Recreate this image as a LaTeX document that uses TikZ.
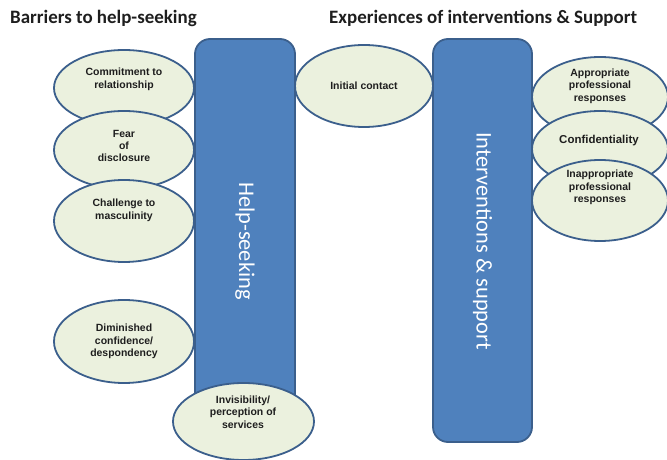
\documentclass[tikz,border=0pt]{standalone}
\usepackage{fontspec}
\setmainfont{Liberation Sans}
\newfontfamily\calib{Carlito}
\usetikzlibrary{shapes.geometric}
\definecolor{ellfill}{HTML}{EBF1DE}
\definecolor{edgeblue}{HTML}{3B5F8C}
\definecolor{barfill}{HTML}{4F81BD}
\definecolor{txt}{HTML}{1E1E1E}
\begin{document}
\begin{tikzpicture}[x=1bp,y=-1bp,
  bar/.style={rectangle, draw=edgeblue, line width=1.8bp, fill=barfill, rounded corners=15bp, inner sep=0pt},
  ell/.style={ellipse, draw=edgeblue, line width=1.8bp, fill=ellfill, inner sep=0pt},
  etxt/.style={align=center, font=\fontsize{10.5}{12.5}\selectfont\bfseries, text=txt, inner sep=0pt},
  bartxt/.style={font=\calib\fontsize{22.5}{27}\selectfont, text=white, rotate=-90, inner sep=0pt},
  titletxt/.style={font=\calib\bfseries\fontsize{19}{22}\selectfont, text=txt, anchor=base west, inner sep=0pt}]
\useasboundingbox (0,0) rectangle (667,460);

% titles
\node[titletxt] (t1) at (10,24) {Barriers to help-seeking};
\node[titletxt] (t2) at (329,24) {Experiences of interventions \& Support};

% bars
\node[bar, minimum width=100bp, minimum height=391bp] (hs) at (245,234.5) {};
\node[bartxt] (hstxt) at (245,241) {Help-seeking};
\node[bar, minimum width=99bp, minimum height=403bp] (iv) at (482.5,240.5) {};
\node[bartxt] (ivtxt) at (482.5,241) {Interventions \& support};

% left ellipses
\node[ell, minimum width=140bp, minimum height=76bp] (commit) at (124,88) {};
\node[etxt] (committ) at (124,79.5) {Commitment to\\relationship};
\node[ell, minimum width=140bp, minimum height=78bp] (fear) at (124,150) {};
\node[etxt] (feart) at (124,146) {Fear\\of\\disclosure};
\node[ell, minimum width=140bp, minimum height=82bp] (chall) at (124,221) {};
\node[etxt] (challt) at (124,210.5) {Challenge to\\masculinity};
\node[ell, minimum width=140bp, minimum height=83bp] (dimin) at (124,341.5) {};
\node[etxt] (dimint) at (124,341.5) {Diminished\\confidence/\\despondency};
\node[ell, minimum width=141bp, minimum height=77bp] (invis) at (243.5,421.5) {};
\node[etxt] (invist) at (243,412) {Invisibility/\\perception of\\services};

% middle
\node[ell, minimum width=138bp, minimum height=82bp] (init) at (364,86) {};
\node[etxt] (initt) at (364,86) {Initial contact};

% right ellipses
\node[ell, minimum width=136bp, minimum height=80bp] (appr) at (600,97) {};
\node[etxt] (apprt) at (600,86) {Appropriate\\professional\\responses};
\node[ell, minimum width=136bp, minimum height=76bp] (conf) at (600,149) {};
\node[etxt, font=\fontsize{11.5}{13}\selectfont\bfseries] (conft) at (599,141) {Confidentiality};
\node[ell, minimum width=136bp, minimum height=81bp] (inap) at (600,200.5) {};
\node[etxt] (inapt) at (600,187.5) {Inappropriate\\professional\\responses};
\end{tikzpicture}
\end{document}
